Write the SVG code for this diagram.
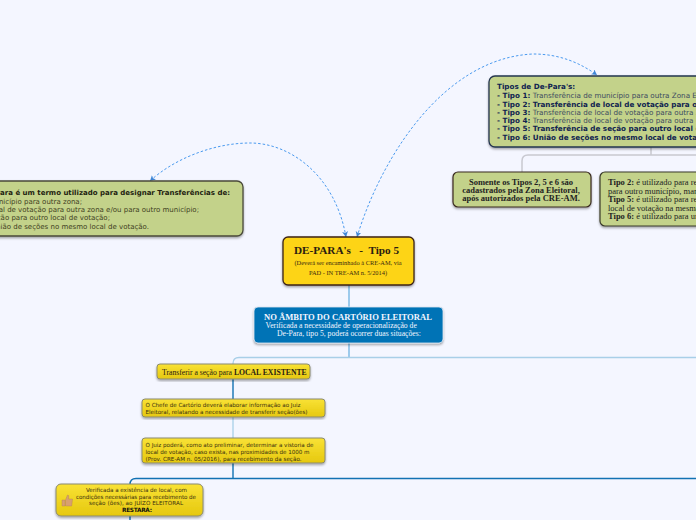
<svg xmlns="http://www.w3.org/2000/svg" width="696" height="520" viewBox="0 0 696 520">
<style>
.v{font-family:"DejaVu Sans",Verdana,sans-serif}
.s{font-family:"Liberation Serif","DejaVu Serif",serif}
.g{fill:#c3d28a}
.y{fill:url(#gy);stroke:#8a8a70;stroke-width:1}
.c{fill:none;stroke:#62aee0;stroke-width:1.2}
.l{fill:none;stroke:#a8cfe8;stroke-width:1.3}
.d{fill:none;stroke:#1272b3;stroke-width:1.4}
.a{fill:none;stroke:#4a9aef;stroke-width:1;stroke-dasharray:2.5 2;marker-end:url(#ah);marker-start:url(#ah)}
text{white-space:pre}
</style>
<defs>
<linearGradient id="gy" x1="0" y1="0" x2="0" y2="1"><stop offset="0" stop-color="#f9e235"/><stop offset="1" stop-color="#e6c80f"/></linearGradient>
<filter id="sh" x="-5%" y="-10%" width="110%" height="125%"><feDropShadow dx="0" dy="1.500" stdDeviation="1" flood-color="#000" flood-opacity=".35"/></filter>
<marker id="ah" markerUnits="userSpaceOnUse" markerWidth="7" markerHeight="7" refX="5.500" refY="3" orient="auto-start-reverse"><path d="M0 0L5.500 3L0 6L1.500 3Z" fill="#3f86d6"/></marker>
</defs>
<rect width="696" height="520" fill="#f4f6ff"/>
<g id="connectors">
<path class="a" d="M346 237C335 175 290 143 250 143C215 143 175 158 150 181"/>
<path class="a" d="M357 237C382 155 445 58 533 54C560 54 580 63 597 75"/>
<path d="M651 147V155M696 155H528Q522 155 522 161V172" fill="none" stroke="#c8c9d0" stroke-width="1.500"/>
<path class="c" d="M349 285V307"/>
<path class="c" d="M349 343V357"/>
<path class="l" d="M696 357.500H239Q233 357.500 233 363.500V364"/>
<path class="d" d="M233 379V399"/>
<path class="l" d="M233 417V438"/>
<path class="d" d="M233 463V478.500M696 478.500H136Q130 478.500 130 484.500V484M130 516V520"/>
</g>
<g id="node-definicao">
<rect class="g" x="-20" y="181" width="263" height="55" rx="6" stroke="#4a4a3a" stroke-width="1.300" filter="url(#sh)"/>
<text class="v" font-size="7" fill="#3f3f22" text-anchor="end"><tspan x="230" y="195" font-weight="700" fill="#222210">De-Para é um termo utilizado para designar Transferências de:</tspan><tspan x="82" y="203.500">de município para outra zona;</tspan><tspan x="199" y="212">de local de votação para outra zona e/ou para outro município;</tspan><tspan x="110" y="220">de seção para outro local de votação;</tspan><tspan x="149" y="229">união de seções no mesmo local de votação.</tspan></text>
</g>
<g id="node-tipos">
<rect class="g" x="489" y="76" width="230" height="71" rx="6" stroke="#25364f" stroke-width="1.300" filter="url(#sh)"/>
<text class="v" font-size="7.200" fill="#0f2350" font-weight="700"><tspan x="497" y="89">Tipos de De-Para's:</tspan>
<tspan x="497" y="97.500">- Tipo 1: <tspan font-weight="400" fill="#3c4a60">Transferência de município para outra Zona Eleitoral;</tspan></tspan>
<tspan x="497" y="106.500">- Tipo 2: Transferência de local de votação para outro município;</tspan>
<tspan x="497" y="114.500">- Tipo 3: <tspan font-weight="400" fill="#3c4a60">Transferência de local de votação para outra Zona;</tspan></tspan>
<tspan x="497" y="123">- Tipo 4: <tspan font-weight="400" fill="#3c4a60">Transferência de local de votação para outra e outro;</tspan></tspan>
<tspan x="497" y="131">- Tipo 5: Transferência de seção para outro local de votação;</tspan>
<tspan x="497" y="140">- Tipo 6: União de seções no mesmo local de votação.</tspan></text>
</g>
<g id="node-somente">
<rect class="g" x="453" y="172" width="138" height="35" rx="5" stroke="#3a2a20" stroke-width="1.200" filter="url(#sh)"/>
<text class="s" font-size="8.500" font-weight="700" fill="#222" text-anchor="middle"><tspan x="521" y="185">Somente os Tipos 2, 5 e 6 são</tspan><tspan x="521" y="193">cadastrados pela Zona Eleitoral,</tspan><tspan x="521" y="201">após autorizados pela CRE-AM.</tspan></text>
</g>
<g id="node-tipo-uso">
<rect class="g" x="600" y="172" width="120" height="54" rx="5" stroke="#3a3a2a" stroke-width="1.200" filter="url(#sh)"/>
<text class="s" font-size="8.500" fill="#222"><tspan x="608" y="185"><tspan font-weight="700">Tipo 2:</tspan> é utilizado para realizar</tspan><tspan x="608" y="193.500">para outro município, mantendo</tspan><tspan x="608" y="202"><tspan font-weight="700">Tipo 5:</tspan> é utilizado para realizar</tspan><tspan x="608" y="210.500">local de votação na mesma zona</tspan><tspan x="608" y="218.500"><tspan font-weight="700">Tipo 6:</tspan> é utilizado para unir seções</tspan></text>
</g>
<g id="node-depara">
<rect x="283" y="237" width="131" height="48" rx="5" fill="#fdd416" stroke="#3c2415" stroke-width="1.300" filter="url(#sh)"/>
<text class="s" font-size="11.200" font-weight="700" fill="#2a2010" x="294" y="254" xml:space="preserve">DE-PARA's   -  Tipo 5</text>
<text class="s" font-size="6.400" fill="#3a2a10" text-anchor="middle"><tspan x="348" y="265">(Deverá ser encaminhado à CRE-AM, via</tspan><tspan x="348" y="275">PAD - IN TRE-AM n. 5/2014)</tspan></text>
</g>
<g id="node-ambito">
<rect x="254" y="307" width="189" height="36" rx="4" fill="#0073b6" filter="url(#sh)" stroke="#dfe6f0" stroke-width=".8"/>
<text class="s" fill="#f4f6ff"><tspan x="264" y="320" font-size="8.600" font-weight="700">NO ÂMBITO DO CARTÓRIO ELEITORAL</tspan><tspan x="265.500" y="328" font-size="7.700">Verificada a necessidade de operacionalização de</tspan><tspan x="277" y="336" font-size="7.700">De-Para, tipo 5, poderá ocorrer duas situações:</tspan></text>
</g>
<g id="node-transferir">
<rect class="y" x="157" y="364" width="153" height="15" rx="3" filter="url(#sh)"/>
<text class="s" font-size="7.700" fill="#2a2010" x="162" y="374.500">Transferir a seção para <tspan font-weight="700">LOCAL EXISTENTE</tspan></text>
</g>
<g id="node-chefe">
<rect class="y" x="142" y="399" width="183" height="18" rx="3" filter="url(#sh)"/>
<text class="v" font-size="5.600" fill="#3a3010" x="145.500" y="406.700" textLength="155">O Chefe de Cartório deverá elaborar informação ao Juiz</text>
<text class="v" font-size="5.600" fill="#3a3010" x="145.500" y="414" textLength="162">Eleitoral, relatando a necessidade de transferir seção(ões)</text>
</g>
<g id="node-juiz">
<rect class="y" x="142" y="438" width="183" height="25" rx="3" filter="url(#sh)"/>
<text class="v" font-size="5.600" fill="#3a3010" x="145.500" y="447" textLength="168">O Juiz poderá, como ato preliminar, determinar a vistoria de</text>
<text class="v" font-size="5.600" fill="#3a3010" x="145.500" y="453.700" textLength="164">local de votação, caso exista, nas proximidades de 1000 m</text>
<text class="v" font-size="5.600" fill="#3a3010" x="145.500" y="460.500" textLength="156">(Prov. CRE-AM n. 05/2016), para recebimento da seção.</text>
</g>
<g id="node-verificada">
<rect class="y" x="56" y="484" width="147" height="32" rx="5" filter="url(#sh)"/>
<path d="M62 500h3v6h-3zM65.500 500l2-5 1.200.5v3.500h3.800l-.8 7h-6.200z" fill="#d8a070" stroke="#b08050" stroke-width=".4"/>
<text class="v" font-size="5.600" fill="#3a3010" x="86" y="492" textLength="101">Verificada a existência de local, com</text>
<text class="v" font-size="5.600" fill="#3a3010" x="76" y="498.500" textLength="120">condições necessárias para recebimento de</text>
<text class="v" font-size="5.600" fill="#3a3010" x="89" y="505" textLength="94">seção (ões), ao JUÍZO ELEITORAL</text>
<text class="v" font-size="5.800" fill="#111" font-weight="700" x="122" y="512" textLength="30">RESTARÁ:</text>
</g>
</svg>
